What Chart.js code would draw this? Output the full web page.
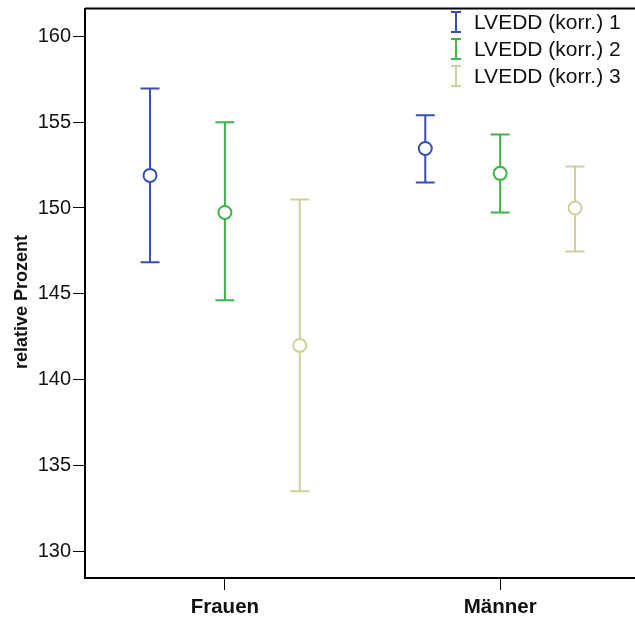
<!DOCTYPE html>
<html>
<head>
<meta charset="utf-8">
<script src="https://cdn.jsdelivr.net/npm/chart.js@4.4.1/dist/chart.umd.min.js"></script>
<style>
  html, body { margin: 0; padding: 0; background: #fff; }
  #wrap { width: 635px; height: 625px; }
</style>
</head>
<body>
<div id="wrap"><canvas id="c" width="635" height="625"></canvas></div>
<script>
// ---- data ----
const categories = ['Frauen', 'Männer'];
const seriesNames = ['LVEDD (korr.) 1', 'LVEDD (korr.) 2', 'LVEDD (korr.) 3'];
const mean1  = [151.9, 153.47];
const lower1 = [146.83, 151.49];
const upper1 = [156.97, 155.4];
const mean2  = [149.74, 152.02];
const lower2 = [144.62, 149.74];
const upper2 = [155.0, 154.29];
const mean3  = [141.99, 150.0];
const lower3 = [133.48, 147.47];
const upper3 = [150.5, 152.42];
const yTicks = [130, 135, 140, 145, 150, 155, 160];
const yTitle = 'relative Prozent';

const colors = ['#3a4db3', '#3cb44a', '#cfcf9b'];
const offsets = [-0.272, 0, 0.272];
const means = [mean1, mean2, mean3];
const lowers = [lower1, lower2, lower3];
const uppers = [upper1, upper2, upper3];
const FONT = '"Liberation Sans", Arial, sans-serif';

const datasets = seriesNames.map((name, i) => ({
  label: name,
  data: categories.map((c, j) => ({ x: j + offsets[i], y: means[i][j], lo: lowers[i][j], hi: uppers[i][j] })),
  borderColor: colors[i],
  backgroundColor: '#ffffff',
  pointRadius: 6.5,
  pointHoverRadius: 6.5,
  pointBorderWidth: 2,
  showLine: false
}));

const errorBars = {
  id: 'errorBars',
  beforeDatasetsDraw(chart) {
    const ctx = chart.ctx, ys = chart.scales.y;
    chart.data.datasets.forEach((ds, i) => {
      const meta = chart.getDatasetMeta(i);
      ds.data.forEach((d, j) => {
        const x = meta.data[j].x;
        const yl = ys.getPixelForValue(d.lo), yh = ys.getPixelForValue(d.hi);
        ctx.save();
        ctx.strokeStyle = ds.borderColor;
        ctx.lineWidth = 2;
        ctx.beginPath();
        ctx.moveTo(x, yl); ctx.lineTo(x, yh);
        ctx.moveTo(x - 9.5, yl); ctx.lineTo(x + 9.5, yl);
        ctx.moveTo(x - 9.5, yh); ctx.lineTo(x + 9.5, yh);
        ctx.stroke();
        ctx.restore();
      });
    });
  },
  afterDraw(chart) {
    const ctx = chart.ctx, a = chart.chartArea;
    ctx.save();
    ctx.strokeStyle = '#000';
    ctx.lineWidth = 2;
    ctx.beginPath();
    ctx.moveTo(a.left, a.top); ctx.lineTo(chart.width, a.top);
    ctx.moveTo(a.left, a.bottom); ctx.lineTo(chart.width, a.bottom);
    ctx.stroke();
    // y title
    ctx.save();
    ctx.translate(22, 302);
    ctx.rotate(-Math.PI / 2);
    ctx.font = 'bold 18px ' + FONT;
    ctx.fillStyle = '#111';
    ctx.textAlign = 'center';
    ctx.textBaseline = 'middle';
    ctx.fillText(yTitle, 0, 0);
    ctx.restore();
    // legend
    ctx.font = '21px ' + FONT;
    ctx.textBaseline = 'middle';
    ctx.textAlign = 'left';
    seriesNames.forEach((name, i) => {
      const cy = 22 + i * 27;
      const ix = 456;
      ctx.strokeStyle = colors[i];
      ctx.lineWidth = 2;
      ctx.beginPath();
      ctx.moveTo(ix, cy - 10); ctx.lineTo(ix, cy + 10);
      ctx.moveTo(ix - 5, cy - 10); ctx.lineTo(ix + 5, cy - 10);
      ctx.moveTo(ix - 5, cy + 10); ctx.lineTo(ix + 5, cy + 10);
      ctx.stroke();
      ctx.fillStyle = '#111';
      ctx.fillText(name, 474, cy + 1);
    });
    ctx.restore();
  }
};

new Chart(document.getElementById('c'), {
  type: 'scatter',
  data: { datasets },
  plugins: [errorBars],
  options: {
    responsive: false,
    devicePixelRatio: 1,
    animation: false,
    layout: { padding: { top: 8, right: 0, left: 0, bottom: 0 } },
    plugins: { legend: { display: false }, tooltip: { enabled: false } },
    scales: {
      x: {
        type: 'linear',
        min: -0.5082, max: 1.459,
        afterBuildTicks(s) { s.ticks = categories.map((c, j) => ({ value: j })); },
        afterFit(s) { s.height = 47; s.paddingLeft = 0; s.paddingRight = 0; },
        border: { display: true, color: '#000', width: 2 },
        grid: { drawOnChartArea: false, drawTicks: true, tickLength: 12, color: '#000', tickWidth: 1 },
        ticks: {
          callback: (v) => categories[v] ?? '',
          color: '#111',
          padding: 5,
          maxRotation: 0,
          font: { family: FONT, size: 20.5, weight: 'bold' }
        }
      },
      y: {
        min: 128.43, max: 161.63,
        afterBuildTicks(s) { s.ticks = yTicks.map(v => ({ value: v })); },
        afterFit(s) { s.width = 85; s.paddingTop = 0; s.paddingBottom = 0; },
        border: { display: true, color: '#000', width: 2 },
        grid: { drawOnChartArea: false, drawTicks: true, tickLength: 12, color: '#000', tickWidth: 1 },
        ticks: {
          color: '#111',
          padding: 2,
          font: { family: FONT, size: 20 }
        }
      }
    }
  }
});
</script>
</body>
</html>
